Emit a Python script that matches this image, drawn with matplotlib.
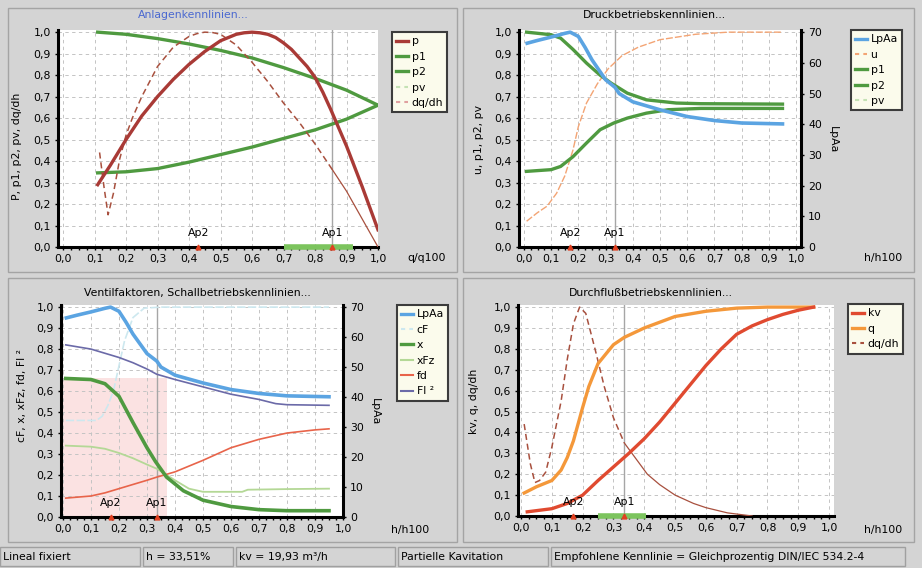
import numpy as np
import matplotlib
matplotlib.use('Agg')
import matplotlib.pyplot as plt
from matplotlib.patches import Rectangle
from matplotlib.lines import Line2D
from matplotlib.ticker import FuncFormatter, MultipleLocator

W, H = 922, 568

# --- Anlagenkennlinien (oben links) ---
tl_x_p = [0.11, 0.13, 0.15, 0.175, 0.2, 0.25, 0.3, 0.35, 0.4, 0.45, 0.5, 0.55, 0.575, 0.6, 0.625, 0.65,
          0.675, 0.7, 0.725, 0.75, 0.775, 0.8, 0.825, 0.85, 0.875, 0.9, 0.925, 0.95, 0.975, 1.0]
tl_p = [0.29, 0.335, 0.38, 0.44, 0.50, 0.61, 0.70, 0.78, 0.85, 0.91, 0.96, 0.99, 0.997, 1.0, 0.997, 0.99,
        0.975, 0.95, 0.92, 0.88, 0.84, 0.79, 0.72, 0.64, 0.555, 0.47, 0.375, 0.28, 0.18, 0.08]
tl_x_pp = [0.11, 0.2, 0.3, 0.4, 0.5, 0.6, 0.7, 0.8, 0.9, 1.0]
tl_p1 = [1.0, 0.99, 0.97, 0.945, 0.915, 0.88, 0.835, 0.785, 0.73, 0.66]
tl_p2 = [0.345, 0.35, 0.365, 0.395, 0.43, 0.465, 0.505, 0.545, 0.595, 0.66]
tl_x_dq = [0.116, 0.13, 0.143, 0.16, 0.18, 0.2, 0.22, 0.25, 0.3, 0.35, 0.4, 0.425, 0.45, 0.475, 0.5, 0.55,
           0.6, 0.65, 0.7, 0.75, 0.8, 0.855, 0.9, 0.95, 1.0]
tl_dq = [0.44, 0.28, 0.15, 0.25, 0.41, 0.52, 0.60, 0.70, 0.84, 0.93, 0.98, 0.993, 1.0, 0.998, 0.99, 0.94,
         0.86, 0.77, 0.67, 0.58, 0.48, 0.36, 0.26, 0.13, 0.0]
tl_ap2, tl_ap1 = 0.43, 0.855
tl_range = [0.70, 0.92]

# --- Druckbetriebskennlinien (oben rechts) ---
lp_x = [0.012, 0.05, 0.1, 0.15, 0.17, 0.2, 0.225, 0.25, 0.3, 0.335, 0.35, 0.4, 0.5, 0.6, 0.7, 0.8, 0.95]
lp_a = [66.4, 67.3, 68.4, 69.6, 70.0, 68.6, 65.0, 61.0, 54.5, 52.0, 50.0, 47.3, 44.7, 42.5, 41.2, 40.4, 40.1]
tr_x_u = [0.01, 0.05, 0.085, 0.12, 0.15, 0.18, 0.2, 0.23, 0.27, 0.31, 0.36, 0.42, 0.5, 0.63, 0.75, 0.95]
tr_u = [0.12, 0.16, 0.19, 0.25, 0.33, 0.45, 0.56, 0.67, 0.76, 0.83, 0.89, 0.93, 0.965, 0.99, 1.0, 1.0]
tr_x_p1 = [0.01, 0.1, 0.135, 0.18, 0.23, 0.28, 0.32, 0.38, 0.45, 0.56, 0.65, 0.95]
tr_p1 = [1.0, 0.988, 0.972, 0.92, 0.856, 0.80, 0.763, 0.716, 0.685, 0.67, 0.667, 0.665]
tr_x_p2 = [0.01, 0.1, 0.135, 0.18, 0.23, 0.28, 0.33, 0.38, 0.45, 0.53, 0.65, 0.95]
tr_p2 = [0.352, 0.36, 0.375, 0.42, 0.484, 0.546, 0.577, 0.60, 0.623, 0.639, 0.645, 0.645]
h_ap2, h_ap1 = 0.17, 0.335

# --- Ventilfaktoren, Schallbetriebskennlinien (unten links) ---
bl_x_cf = [0.01, 0.12, 0.14, 0.16, 0.18, 0.2, 0.22, 0.25, 0.29, 0.35, 0.95]
bl_cf = [0.46, 0.46, 0.48, 0.53, 0.60, 0.72, 0.84, 0.95, 0.995, 1.0, 1.0]
bl_x_x = [0.01, 0.1, 0.15, 0.2, 0.25, 0.3, 0.33, 0.37, 0.43, 0.5, 0.6, 0.7, 0.8, 0.95]
bl_xv = [0.66, 0.655, 0.635, 0.575, 0.45, 0.33, 0.265, 0.19, 0.125, 0.08, 0.05, 0.035, 0.03, 0.03]
bl_x_xfz = [0.01, 0.1, 0.15, 0.2, 0.25, 0.3, 0.335, 0.4, 0.45, 0.5, 0.6, 0.64, 0.66, 0.8, 0.95]
bl_xfz = [0.34, 0.335, 0.325, 0.305, 0.28, 0.25, 0.23, 0.175, 0.135, 0.12, 0.12, 0.12, 0.13, 0.133, 0.135]
bl_x_fd = [0.01, 0.1, 0.15, 0.2, 0.25, 0.3, 0.335, 0.4, 0.5, 0.6, 0.7, 0.8, 0.9, 0.95]
bl_fd = [0.09, 0.10, 0.115, 0.135, 0.155, 0.175, 0.19, 0.215, 0.27, 0.33, 0.37, 0.40, 0.415, 0.42]
bl_x_fl = [0.01, 0.1, 0.2, 0.25, 0.3, 0.335, 0.4, 0.5, 0.6, 0.7, 0.76, 0.8, 0.95]
bl_fl2 = [0.82, 0.80, 0.76, 0.735, 0.705, 0.68, 0.655, 0.62, 0.585, 0.56, 0.54, 0.535, 0.532]
kav_range = [0.0, 0.37]
kav_level = 0.66

# --- Durchflussbetriebskennlinien (unten rechts) ---
br_x_kv = [0.02, 0.1, 0.15, 0.2, 0.25, 0.3, 0.35, 0.4, 0.45, 0.5, 0.55, 0.6, 0.65, 0.7, 0.75, 0.8, 0.85, 0.9, 0.95]
br_kv = [0.02, 0.035, 0.06, 0.10, 0.17, 0.235, 0.30, 0.37, 0.45, 0.54, 0.63, 0.72, 0.80, 0.87, 0.91, 0.94, 0.965, 0.985, 1.0]
br_x_q = [0.01, 0.05, 0.1, 0.13, 0.15, 0.17, 0.2, 0.22, 0.25, 0.3, 0.335, 0.4, 0.5, 0.6, 0.7, 0.8, 0.95]
br_q = [0.11, 0.14, 0.17, 0.22, 0.28, 0.36, 0.52, 0.62, 0.73, 0.82, 0.855, 0.90, 0.955, 0.98, 0.995, 1.0, 1.0]
br_x_dq = [0.01, 0.03, 0.045, 0.06, 0.08, 0.1, 0.13, 0.15, 0.17, 0.19, 0.21, 0.24, 0.27, 0.3, 0.335,
           0.37, 0.41, 0.45, 0.5, 0.56, 0.6, 0.67, 0.75]
br_dq = [0.44, 0.25, 0.16, 0.17, 0.21, 0.33, 0.55, 0.75, 0.92, 1.0, 0.97, 0.80, 0.62, 0.47, 0.35,
         0.28, 0.20, 0.15, 0.10, 0.06, 0.04, 0.015, 0.0]
br_range = [0.25, 0.405]

# Farben
BG = '#d4d4d4'
C_P = '#a93a36'
C_GREEN = '#4f9a40'
C_PV = '#c4e2b4'
C_DQ = '#a8503e'
C_BLUE = '#5ba4e2'
C_U = '#f3a474'
C_CF = '#cde8ef'
C_XFZ = '#b4d896'
C_FD = '#e8644a'
C_FL = '#6b6aa8'
C_KV = '#e04a30'
C_Q = '#f4983a'

plt.rcParams['font.family'] = ['DejaVu Sans']
plt.rcParams['font.size'] = 7.5

fig = plt.figure(figsize=(W / 100, H / 100), dpi=100, facecolor=BG)


def fx(x):
    return x / W


def fy(y):
    return 1 - y / H


def box(l, t, r, b):
    return [l / W, 1 - b / H, (r - l) / W, (b - t) / H]


comma = FuncFormatter(lambda v, pos: ('%.1f' % v).replace('.', ','))

# Panelrahmen
for l, t, r, b in [(8, 8, 457, 272), (463, 8, 914, 272), (8, 278, 457, 542), (463, 278, 914, 542)]:
    fig.patches.append(Rectangle((fx(l), fy(b)), (r - l) / W, (b - t) / H, transform=fig.transFigure,
                                 fill=False, ec='#a4a4a4', lw=1))


def make_axes(rect, xlim):
    ax = fig.add_axes(box(*rect))
    ax.set_xlim(*xlim)
    ax.set_ylim(0, 1.01)
    ax.xaxis.set_major_locator(MultipleLocator(0.1))
    ax.yaxis.set_major_locator(MultipleLocator(0.1))
    ax.xaxis.set_minor_locator(MultipleLocator(0.025))
    ax.xaxis.set_major_formatter(comma)
    ax.yaxis.set_major_formatter(comma)
    ax.grid(True, color='#c4c4c4', ls=(0, (3.5, 3.5)), lw=0.7)
    for s in ['top', 'right']:
        ax.spines[s].set_visible(False)
    for s in ['left', 'bottom']:
        ax.spines[s].set_linewidth(2.2)
    ax.tick_params(length=2, width=1, pad=3, labelsize=7.8)
    ax.tick_params(which='minor', length=2, width=1)
    return ax


def make_twin(ax):
    ax2 = ax.twinx()
    ax2.set_ylim(0, 70.7)
    ax2.yaxis.set_major_locator(MultipleLocator(10))
    for s in ['top', 'left', 'bottom']:
        ax2.spines[s].set_visible(False)
    ax2.spines['right'].set_linewidth(2.2)
    ax2.tick_params(length=2, width=1, pad=3, labelsize=7.8)
    return ax2


def mark_ap(ax, x2, x1):
    ax.axvline(x1, color='#a6a6a6', lw=1, zorder=2)
    for x, name in [(x2, 'Ap2'), (x1, 'Ap1')]:
        ax.plot([x], [0], marker='^', ms=3.5, color='#e04020', clip_on=False, zorder=6)
        ax.text(x, 0.066, name, ha='center', va='center', fontsize=7.8, zorder=6)


def add_legend(handles, labels, x, y):
    leg = fig.legend(handles, labels, loc='upper left', bbox_to_anchor=(fx(x), fy(y)),
                     bbox_transform=fig.transFigure, borderaxespad=0, fancybox=False,
                     facecolor='#fbfbec', edgecolor='#3c3c3c', framealpha=1, fontsize=7.8,
                     handlelength=1.1, handletextpad=0.3, labelspacing=0.5, borderpad=0.4)
    leg.get_frame().set_linewidth(1.5)


def split_at(xs, ys, xc):
    xs, ys = np.asarray(xs), np.asarray(ys)
    return (xs[xs <= xc], ys[xs <= xc]), (xs[xs >= xc], ys[xs >= xc])


# ---------------- oben links ----------------
ax = make_axes((58, 30, 378, 247), (-0.016, 1.0))
ax.plot(tl_x_pp, tl_p1, color=C_GREEN, lw=2.4, zorder=3)
ax.plot(tl_x_pp, tl_p2, color=C_GREEN, lw=2.4, zorder=3)
(d1, d2) = split_at(tl_x_dq, tl_dq, tl_ap1)
ax.plot(*d1, color=C_DQ, lw=1.1, ls=(0, (4, 2.5)), zorder=4)
ax.plot(*d2, color=C_DQ, lw=0.9, zorder=4)
ax.plot(tl_x_p, tl_p, color=C_P, lw=2.4, zorder=4)
ax.plot(tl_range, [0, 0], color='#7cc45e', lw=4, solid_capstyle='butt', clip_on=False, zorder=5)
mark_ap(ax, tl_ap2, tl_ap1)
fig.text(fx(193), fy(15), 'Anlagenkennlinien...', color='#4a68d0', ha='center', va='center', fontsize=7.8)
fig.text(fx(17), fy(146), 'P, p1, p2, pv, dq/dh', rotation=90, ha='center', va='center', fontsize=7.8)
fig.text(fx(427), fy(258), 'q/q100', ha='center', va='center', fontsize=7.8)
add_legend([Line2D([], [], color=C_P, lw=2.4), Line2D([], [], color=C_GREEN, lw=2.4),
            Line2D([], [], color=C_GREEN, lw=2.4), Line2D([], [], color=C_PV, lw=1.5, ls=(0, (2, 2))),
            Line2D([], [], color='#e0a0a0', lw=1.5, ls=(0, (2, 2)))],
           ['p', 'p1', 'p2', 'pv', 'dq/dh'], 392, 32)

# ---------------- oben rechts ----------------
ax = make_axes((519, 30, 801, 247), (-0.018, 1.018))
ax2 = make_twin(ax)
ax.plot(tr_x_u, tr_u, color=C_U, lw=1.0, ls=(0, (5, 1.5)), zorder=3)
ax.plot(tr_x_p1, tr_p1, color=C_GREEN, lw=2.4, zorder=3)
ax.plot(tr_x_p2, tr_p2, color=C_GREEN, lw=2.4, zorder=3)
ax2.plot(lp_x, lp_a, color=C_BLUE, lw=2.6)
mark_ap(ax, h_ap2, h_ap1)
fig.text(fx(654), fy(15), 'Druckbetriebskennlinien...', ha='center', va='center', fontsize=7.8)
fig.text(fx(479), fy(140), 'u, p1, p2, pv', rotation=90, ha='center', va='center', fontsize=7.8)
fig.text(fx(833), fy(140), 'LpAa', rotation=270, ha='center', va='center', fontsize=7.8)
fig.text(fx(883), fy(258), 'h/h100', ha='center', va='center', fontsize=7.8)
add_legend([Line2D([], [], color=C_BLUE, lw=2.4), Line2D([], [], color=C_U, lw=1.5, ls=(0, (2, 2))),
            Line2D([], [], color=C_GREEN, lw=2.4), Line2D([], [], color=C_GREEN, lw=2.4),
            Line2D([], [], color=C_PV, lw=1.5, ls=(0, (2, 2)))],
           ['LpAa', 'u', 'p1', 'p2', 'pv'], 851, 30)

# ---------------- unten links ----------------
ax = make_axes((61, 305, 343, 517), (-0.007, 1.0))
ax2 = make_twin(ax)
ax.fill_between(kav_range, 0, kav_level, color='#fbe2e2', lw=0, zorder=1)
ax.plot(bl_x_cf, bl_cf, color=C_CF, lw=1.2, ls=(0, (5, 1.5)), zorder=3)
ax.plot(bl_x_xfz, bl_xfz, color=C_XFZ, lw=1.3, zorder=3)
ax.plot(bl_x_fd, bl_fd, color=C_FD, lw=1.2, zorder=3)
ax.plot(bl_x_fl, bl_fl2, color=C_FL, lw=1.2, zorder=3)
ax.plot(bl_x_x, bl_xv, color=C_GREEN, lw=2.6, zorder=4)
ax2.plot(lp_x, lp_a, color=C_BLUE, lw=2.6)
mark_ap(ax, h_ap2, h_ap1)
fig.text(fx(197), fy(293), 'Ventilfaktoren, Schallbetriebskennlinien...', ha='center', va='center', fontsize=7.8)
fig.text(fx(22), fy(395), 'cF, x, xFz, fd, Fl ²', rotation=90, ha='center', va='center', fontsize=7.8)
fig.text(fx(375), fy(412), 'LpAa', rotation=270, ha='center', va='center', fontsize=7.8)
fig.text(fx(410), fy(530), 'h/h100', ha='center', va='center', fontsize=7.8)
add_legend([Line2D([], [], color=C_BLUE, lw=2.4), Line2D([], [], color=C_CF, lw=1.5, ls=(0, (2, 2))),
            Line2D([], [], color=C_GREEN, lw=2.4), Line2D([], [], color=C_XFZ, lw=1.5),
            Line2D([], [], color=C_FD, lw=1.5), Line2D([], [], color=C_FL, lw=1.5)],
           ['LpAa', 'cF', 'x', 'xFz', 'fd', 'Fl ²'], 397, 305)

# ---------------- unten rechts ----------------
ax = make_axes((518, 305, 834, 516), (-0.01, 1.016))
(d1, d2) = split_at(br_x_dq, br_dq, h_ap1)
ax.plot(*d1, color=C_DQ, lw=1.1, ls=(0, (4, 2.5)), zorder=3)
ax.plot(*d2, color=C_DQ, lw=0.9, zorder=3)
ax.plot(br_x_q, br_q, color=C_Q, lw=2.4, zorder=4)
ax.plot(br_x_kv, br_kv, color=C_KV, lw=2.4, zorder=4)
ax.plot(br_range, [0, 0], color='#7cc45e', lw=4, solid_capstyle='butt', clip_on=False, zorder=5)
mark_ap(ax, h_ap2, h_ap1)
fig.text(fx(651), fy(293), 'Durchflußbetriebskennlinien...', ha='center', va='center', fontsize=7.8)
fig.text(fx(474), fy(401), 'kv, q, dq/dh', rotation=90, ha='center', va='center', fontsize=7.8)
fig.text(fx(883), fy(530), 'h/h100', ha='center', va='center', fontsize=7.8)
add_legend([Line2D([], [], color=C_KV, lw=2.4), Line2D([], [], color=C_Q, lw=2.4),
            Line2D([], [], color=C_DQ, lw=1.5, ls=(0, (2, 2)))],
           ['kv', 'q', 'dq/dh'], 848, 304)

# ---------------- Statuszeile ----------------
status = [(0, 140, 'Lineal fixiert'), (143, 233, 'h = 33,51%'), (236, 395, 'kv = 19,93 m³/h'),
          (398, 548, 'Partielle Kavitation'),
          (551, 905, 'Empfohlene Kennlinie = Gleichprozentig DIN/IEC 534.2-4')]
fig.patches.append(Rectangle((0, fy(568)), 1, 23 / H, transform=fig.transFigure, fc=BG, ec='none'))
for l, r, s in status:
    fig.patches.append(Rectangle((fx(l), fy(566)), (r - l) / W, 19 / H, transform=fig.transFigure,
                                 fill=False, ec='#a0a0a0', lw=1))
    fig.text(fx(l + 3), fy(557), s, ha='left', va='center', fontsize=7.8)

fig.savefig('out.png', dpi=100, facecolor=BG)
